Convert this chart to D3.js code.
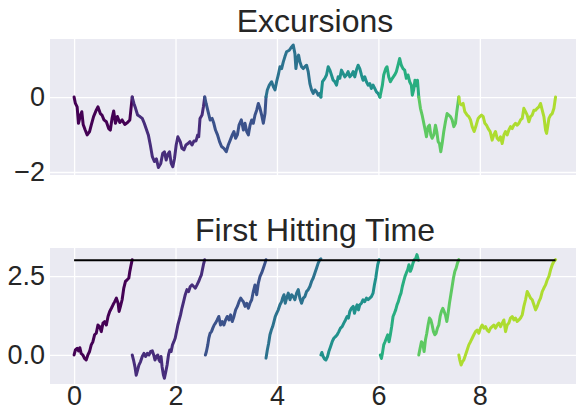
<!DOCTYPE html>
<html><head><meta charset="utf-8">
<script src="https://cdn.jsdelivr.net/npm/d3@7"></script>
<style>
body{margin:0;background:#fff;}
svg{display:block;font-family:"Liberation Sans",Arial,sans-serif;}
</style>
</head><body>
<svg id="chart" width="576" height="412"></svg>
<script>
// ---------- data ----------
const xTicks = [0, 2, 4, 6, 8];
const topYTicks = [0, -2];
const bottomYTicks = [0, 2.5];
const titles = ["Excursions", "First Hitting Time"];
const hittingLevel = 3;
const levelSpan = [0, 9.493];

// top panel: excursion segments [t, value]
const excursion1 = [[0,0],[0.026,-0.17],[0.06,-0.26],[0.086,-0.70],[0.126,-0.48],[0.152,-0.39],[0.179,-0.73],[0.219,-0.88],[0.258,-1.01],[0.305,-0.92],[0.338,-0.75],[0.384,-0.52],[0.437,-0.35],[0.47,-0.26],[0.517,-0.44],[0.55,-0.48],[0.589,-0.61],[0.636,-0.66],[0.682,-0.84],[0.715,-0.88],[0.748,-0.57],[0.781,-0.37],[0.815,-0.70],[0.854,-0.52],[0.901,-0.68],[0.947,-0.61],[1.0,-0.73],[1.053,-0.68],[1.099,-0.61],[1.119,-0.35],[1.146,0]];
const excursion2 = [[1.146,0],[1.179,-0.17],[1.212,-0.30],[1.252,-0.48],[1.298,-0.52],[1.344,-0.57],[1.384,-0.70],[1.43,-0.88],[1.464,-1.01],[1.503,-1.28],[1.543,-1.59],[1.583,-1.72],[1.623,-1.65],[1.662,-1.88],[1.709,-1.77],[1.748,-1.50],[1.781,-1.46],[1.815,-1.68],[1.848,-1.53],[1.881,-1.46],[1.914,-1.77],[1.947,-1.86],[1.98,-1.64],[2.013,-1.28],[2.046,-1.06],[2.093,-1.19],[2.126,-1.37],[2.166,-1.41],[2.205,-1.28],[2.245,-1.24],[2.285,-1.19],[2.325,-1.28],[2.364,-1.17],[2.404,-1.17],[2.437,-1.01],[2.457,-1.06],[2.483,-0.57],[2.523,-0.48],[2.55,-0.26],[2.576,0]];
const excursion3 = [[2.576,0],[2.603,-0.17],[2.642,-0.39],[2.682,-0.61],[2.722,-0.57],[2.755,-0.70],[2.788,-0.88],[2.828,-1.01],[2.868,-1.19],[2.907,-1.32],[2.954,-1.37],[3.0,-1.46],[3.04,-1.28],[3.079,-1.15],[3.119,-1.01],[3.152,-0.92],[3.185,-1.10],[3.219,-1.01],[3.252,-0.75],[3.298,-0.61],[3.338,-0.88],[3.37,-0.70],[3.403,-0.92],[3.436,-1.01],[3.469,-0.75],[3.502,-0.61],[3.534,-0.70],[3.567,-0.48],[3.6,-0.35],[3.633,-0.17],[3.666,-0.30],[3.698,-0.48],[3.731,-0.70],[3.764,-0.44],[3.784,0]];
const excursion4 = [[3.784,0],[3.81,0.19],[3.849,0.32],[3.895,0.41],[3.928,0.28],[3.961,0.19],[3.993,0.41],[4.026,0.59],[4.059,0.81],[4.092,0.76],[4.125,0.94],[4.157,1.08],[4.19,1.21],[4.243,1.25],[4.289,1.34],[4.321,1.39],[4.354,1.16],[4.374,0.76],[4.4,1.03],[4.426,1.12],[4.452,0.94],[4.485,0.81],[4.518,0.76],[4.551,0.81],[4.584,0.85],[4.616,0.68],[4.649,0.36],[4.682,0.19],[4.715,0.10],[4.748,0.19],[4.78,0.14],[4.813,0.05],[4.846,0.10],[4.866,0]];
const excursion5 = [[4.866,0],[4.898,0.41],[4.944,0.50],[4.977,0.59],[5.01,0.81],[5.043,0.72],[5.075,0.59],[5.108,0.45],[5.141,0.41],[5.174,0.32],[5.207,0.54],[5.239,0.50],[5.272,0.72],[5.305,0.63],[5.338,0.54],[5.37,0.59],[5.403,0.68],[5.436,0.54],[5.469,0.59],[5.502,0.68],[5.534,0.54],[5.567,0.72],[5.6,0.85],[5.633,0.76],[5.666,0.59],[5.698,0.45],[5.731,0.54],[5.764,0.41],[5.797,0.32],[5.83,0.36],[5.862,0.23],[5.895,0.32],[5.928,0.23],[5.961,0.14],[5.993,0.10],[6.03,0]];
const excursion6 = [[6.03,0],[6.079,0.32],[6.105,0.59],[6.144,0.76],[6.17,0.81],[6.203,0.54],[6.236,0.41],[6.275,0.50],[6.321,0.59],[6.354,0.68],[6.387,0.85],[6.42,1.03],[6.452,0.85],[6.485,0.76],[6.518,0.72],[6.551,0.50],[6.584,0.59],[6.616,0.41],[6.649,0.32],[6.669,0.05],[6.695,0.19],[6.721,0.45],[6.748,0.30],[6.77,0.45],[6.785,0.2],[6.796,0]];
const excursion7 = [[6.796,0],[6.829,-0.30],[6.862,-0.48],[6.895,-0.70],[6.928,-0.92],[6.947,-1.06],[6.98,-0.79],[7.007,-0.75],[7.033,-1.01],[7.059,-1.10],[7.092,-1.01],[7.125,-0.75],[7.151,-0.92],[7.178,-1.19],[7.204,-1.24],[7.23,-1.46],[7.257,-1.24],[7.289,-0.92],[7.322,-0.66],[7.355,-0.44],[7.388,-0.48],[7.421,-0.52],[7.454,-0.61],[7.487,-0.79],[7.52,-0.70],[7.546,-0.39],[7.586,0]];
const excursion8 = [[7.586,0],[7.605,-0.17],[7.638,-0.21],[7.671,-0.17],[7.704,-0.39],[7.75,-0.48],[7.783,-0.52],[7.816,-0.61],[7.849,-0.79],[7.888,-0.92],[7.928,-0.75],[7.967,-0.57],[8.0,-0.52],[8.033,-0.48],[8.066,-0.52],[8.099,-0.70],[8.132,-0.75],[8.164,-0.84],[8.204,-0.92],[8.243,-1.15],[8.276,-1.01],[8.309,-0.92],[8.342,-1.10],[8.375,-1.15],[8.408,-1.06],[8.441,-1.24],[8.474,-1.01],[8.507,-0.92],[8.539,-1.01],[8.572,-0.88],[8.605,-0.79],[8.638,-0.84],[8.671,-0.75],[8.704,-0.70],[8.737,-0.75],[8.77,-0.70],[8.803,-0.61],[8.836,-0.57],[8.868,-0.30],[8.901,-0.39],[8.934,-0.48],[8.967,-0.66],[9.0,-0.52],[9.033,-0.48],[9.066,-0.35],[9.099,-0.35],[9.132,-0.30],[9.164,-0.26],[9.197,-0.17],[9.23,-0.35],[9.263,-0.52],[9.296,-0.88],[9.316,-0.97],[9.342,-0.75],[9.362,-0.57],[9.395,-0.48],[9.428,-0.44],[9.461,-0.30],[9.48,-0.12],[9.493,0]];

// bottom panel: first-hitting segments [t, value]
const hitting1 = [[0,0],[0.026,0.16],[0.06,0.21],[0.086,0.13],[0.113,0.23],[0.139,0.05],[0.172,0.0],[0.205,-0.11],[0.238,-0.16],[0.272,0.0],[0.305,0.11],[0.338,0.32],[0.371,0.42],[0.404,0.64],[0.437,0.69],[0.47,0.95],[0.503,0.90],[0.536,0.74],[0.57,1.01],[0.603,1.06],[0.636,0.95],[0.669,1.22],[0.702,1.38],[0.735,1.48],[0.768,1.59],[0.801,1.69],[0.834,1.80],[0.868,1.64],[0.887,1.38],[0.914,1.54],[0.947,1.75],[0.98,2.12],[1.013,2.33],[1.046,2.38],[1.079,2.44],[1.099,2.65],[1.119,2.81],[1.146,3.02]];
const hitting2 = [[1.146,0],[1.172,-0.16],[1.199,-0.37],[1.225,-0.64],[1.252,-0.48],[1.278,-0.32],[1.311,-0.21],[1.344,-0.05],[1.377,0.05],[1.411,-0.05],[1.444,0.05],[1.477,0.0],[1.51,0.11],[1.543,0.13],[1.57,0.0],[1.596,-0.16],[1.623,-0.05],[1.649,0.0],[1.675,-0.16],[1.695,-0.21],[1.715,-0.05],[1.735,-0.37],[1.762,-0.64],[1.781,-0.74],[1.808,-0.53],[1.834,-0.32],[1.861,0.0],[1.887,0.16],[1.914,0.11],[1.94,0.32],[1.967,0.42],[1.993,0.53],[2.02,0.74],[2.046,0.95],[2.073,1.11],[2.099,1.27],[2.126,1.48],[2.159,1.69],[2.192,1.91],[2.225,2.07],[2.258,2.01],[2.291,2.17],[2.325,2.22],[2.358,2.17],[2.391,2.12],[2.424,2.22],[2.457,2.33],[2.483,2.44],[2.51,2.54],[2.53,2.70],[2.55,2.86],[2.576,3.02]];
const hitting3 = [[2.589,0],[2.609,0.11],[2.636,0.32],[2.656,0.53],[2.682,0.69],[2.709,0.74],[2.735,0.85],[2.762,0.95],[2.788,1.01],[2.821,1.11],[2.854,1.22],[2.887,0.95],[2.921,1.06],[2.954,0.95],[2.987,1.11],[3.02,1.22],[3.053,1.11],[3.086,1.27],[3.119,1.06],[3.152,1.22],[3.185,1.43],[3.219,1.54],[3.252,1.69],[3.285,1.80],[3.305,1.75],[3.338,1.69],[3.37,1.54],[3.403,1.64],[3.436,1.48],[3.469,1.64],[3.502,1.75],[3.534,2.01],[3.567,2.22],[3.6,1.91],[3.633,2.28],[3.666,2.49],[3.698,2.60],[3.731,2.75],[3.764,2.91],[3.784,3.02]];
const hitting4 = [[3.784,-0.1],[3.81,0.16],[3.836,0.37],[3.862,0.64],[3.889,0.79],[3.915,0.90],[3.941,1.06],[3.967,1.22],[3.993,1.32],[4.026,1.43],[4.059,1.59],[4.092,1.69],[4.111,1.80],[4.138,1.91],[4.164,1.64],[4.19,1.80],[4.223,1.96],[4.256,1.75],[4.289,1.91],[4.321,1.85],[4.354,1.75],[4.387,1.96],[4.42,2.07],[4.452,1.80],[4.485,1.64],[4.518,1.80],[4.551,1.85],[4.584,2.01],[4.616,2.07],[4.649,2.17],[4.682,2.33],[4.715,2.44],[4.748,2.60],[4.78,2.75],[4.813,2.91],[4.846,3.02],[4.866,3.05]];
const hitting5 = [[4.866,0],[4.885,0.08],[4.911,-0.05],[4.938,-0.13],[4.964,-0.16],[4.997,-0.05],[5.023,0.11],[5.056,0.26],[5.089,0.42],[5.121,0.53],[5.154,0.58],[5.187,0.64],[5.22,0.74],[5.252,0.85],[5.285,0.90],[5.318,1.01],[5.351,1.11],[5.384,1.22],[5.41,1.17],[5.436,1.38],[5.469,1.48],[5.502,1.54],[5.528,1.32],[5.554,1.48],[5.58,1.59],[5.607,1.43],[5.633,1.59],[5.666,1.64],[5.698,1.75],[5.731,1.69],[5.764,1.80],[5.797,1.75],[5.83,1.80],[5.862,1.85],[5.895,1.96],[5.921,2.22],[5.948,2.44],[5.967,2.65],[5.987,2.86],[6.015,3.02]];
const hitting6 = [[6.039,0],[6.059,-0.11],[6.079,0.05],[6.105,0.32],[6.131,0.42],[6.157,0.53],[6.184,0.64],[6.21,0.42],[6.236,0.64],[6.262,0.90],[6.289,1.22],[6.315,1.32],[6.341,1.43],[6.367,1.59],[6.393,1.69],[6.42,1.85],[6.446,1.96],[6.472,2.17],[6.498,2.33],[6.525,2.49],[6.551,2.60],[6.577,2.70],[6.603,2.86],[6.63,2.65],[6.656,2.75],[6.682,2.91],[6.708,3.02],[6.734,3.05],[6.76,3.18],[6.79,3.0]];
const hitting7 = [[6.796,0],[6.822,0.21],[6.849,0.42],[6.875,0.37],[6.901,0.11],[6.928,0.48],[6.954,0.69],[6.98,0.95],[7.007,1.17],[7.033,1.11],[7.059,0.95],[7.086,0.74],[7.112,0.64],[7.138,0.69],[7.164,0.85],[7.191,0.95],[7.217,1.22],[7.243,1.38],[7.27,1.48],[7.296,1.38],[7.322,1.27],[7.349,1.06],[7.375,1.32],[7.401,1.64],[7.428,1.91],[7.454,2.17],[7.48,2.44],[7.507,2.65],[7.533,2.75],[7.559,2.91],[7.586,3.02]];
const hitting8 = [[7.586,0],[7.605,-0.16],[7.632,-0.32],[7.658,-0.21],[7.684,-0.16],[7.717,0],[7.75,0.16],[7.783,0.32],[7.816,0.42],[7.849,0.53],[7.882,0.64],[7.914,0.74],[7.947,0.79],[7.98,0.69],[8.013,0.85],[8.046,0.95],[8.079,0.85],[8.112,0.90],[8.145,0.79],[8.178,0.74],[8.211,0.85],[8.243,0.90],[8.276,0.95],[8.309,0.85],[8.342,0.95],[8.375,1.01],[8.408,0.90],[8.441,1.01],[8.474,1.11],[8.507,0.74],[8.539,0.95],[8.572,1.01],[8.605,1.17],[8.638,1.22],[8.671,1.11],[8.704,1.17],[8.737,1.06],[8.77,1.11],[8.803,1.17],[8.836,1.27],[8.868,1.54],[8.901,1.75],[8.934,2.01],[8.967,1.91],[9.0,1.80],[9.033,1.75],[9.066,1.59],[9.099,1.43],[9.132,1.54],[9.164,1.69],[9.197,1.80],[9.23,2.01],[9.263,2.12],[9.296,2.22],[9.329,2.38],[9.362,2.49],[9.395,2.70],[9.428,2.86],[9.461,2.97],[9.493,3.02]];

const excursions = [excursion1, excursion2, excursion3, excursion4, excursion5, excursion6, excursion7, excursion8];
const hittings = [hitting1, hitting2, hitting3, hitting4, hitting5, hitting6, hitting7, hitting8];

// ---------- layout ----------
const svg = d3.select("#chart");
const left = 50, right = 580;
const panels = [
  {top: 39, bottom: 175, domain: [-2.08, 1.55], yTicks: topYTicks, fmt: d3.format("d"), segs: excursions, title: titles[0], titleY: 32, xLabels: false, level: false},
  {top: 248, bottom: 384, domain: [-0.92, 3.39], yTicks: bottomYTicks, fmt: d3.format(".1f"), segs: hittings, title: titles[1], titleY: 241, xLabels: true, level: true}
];
const x = d3.scaleLinear().domain([-0.475, 9.975]).range([left, right]);
const color = i => d3.interpolateViridis(i / 8);
const textColor = "#262626";

panels.forEach((p, pi) => {
  const y = d3.scaleLinear().domain(p.domain).range([p.bottom, p.top]);
  const g = svg.append("g");
  g.append("rect").attr("x", left).attr("y", p.top).attr("width", right - left).attr("height", p.bottom - p.top).attr("fill", "#EAEAF2");

  // vertical grid + x labels
  const xa = d3.axisBottom(x).tickValues(xTicks).tickSize(-(p.bottom - p.top)).tickPadding(2)
    .tickFormat(p.xLabels ? d3.format("d") : () => "");
  const gx = g.append("g").attr("transform", `translate(0,${p.bottom})`).call(xa);
  gx.select(".domain").remove();
  gx.selectAll(".tick line").attr("stroke", "#fff").attr("stroke-width", 1.3);
  gx.selectAll(".tick text").attr("fill", textColor).attr("font-size", 27).attr("font-family", "Liberation Sans, Arial, sans-serif");

  // horizontal grid + y labels
  const ya = d3.axisLeft(y).tickValues(p.yTicks).tickSize(-(right - left)).tickPadding(5).tickFormat(p.fmt);
  const gy = g.append("g").attr("transform", `translate(${left},0)`).call(ya);
  gy.select(".domain").remove();
  gy.selectAll(".tick line").attr("stroke", "#fff").attr("stroke-width", 1.3);
  gy.selectAll(".tick text").attr("fill", textColor).attr("font-size", 27).attr("font-family", "Liberation Sans, Arial, sans-serif");

  const line = d3.line().x(d => x(d[0])).y(d => y(d[1]));
  p.segs.forEach((seg, i) => {
    g.append("path").datum(seg).attr("d", line).attr("fill", "none")
      .attr("stroke", color(i)).attr("stroke-width", 3)
      .attr("stroke-linejoin", "round").attr("stroke-linecap", "round");
  });

  if (p.level) {
    g.append("path").datum(levelSpan.map(t => [t, hittingLevel])).attr("d", line)
      .attr("stroke", "#000").attr("stroke-width", 2).attr("fill", "none");
  }

  g.append("text").attr("x", (left + right) / 2).attr("y", p.titleY)
    .attr("text-anchor", "middle").attr("fill", textColor).attr("font-size", 32)
    .text(p.title);
});
</script>
</body></html>
